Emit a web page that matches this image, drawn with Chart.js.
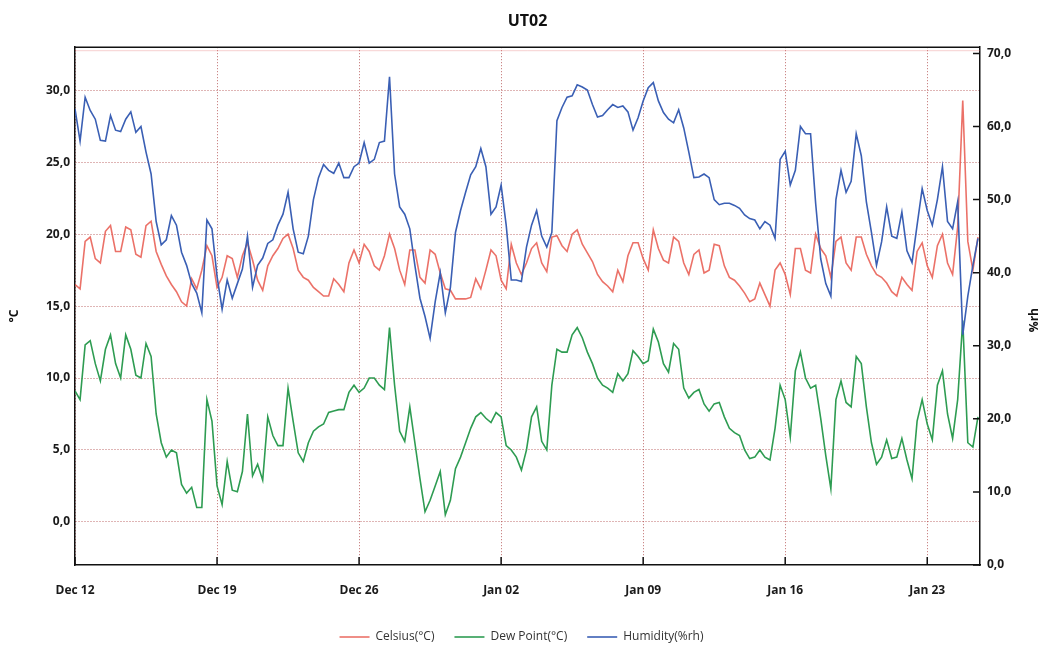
<!DOCTYPE html>
<html lang="en">
<head>
    <meta charset="UTF-8">
    <title>UT02</title>
    <script src="https://cdn.jsdelivr.net/npm/chart.js"></script>
    <style>
        body { margin: 0; background: #fff; }
        canvas { display: block; }
    </style>
</head>
<body>
    <canvas id="myChart" width="1043" height="646"></canvas>

    <script>
    // readings every 6 hours, starting Dec 12 00:00
    const sampleStepDays = 0.25;

    // one row per week
    const celsius = [
        16.5, 16.2, 19.5, 19.8, 18.3, 18.0, 20.2, 20.6, 18.8, 18.8, 20.5, 20.3, 18.6, 18.4, 20.6, 20.9, 18.8, 17.9, 17.1, 16.5, 16.0, 15.3, 15.0, 16.9, 16.2, 17.5, 19.2, 18.5,
        16.3, 17.0, 18.5, 18.3, 17.0, 18.5, 19.4, 18.2, 16.8, 16.1, 17.8, 18.5, 19.0, 19.7, 20.0, 19.0, 17.5, 17.0, 16.8, 16.3, 16.0, 15.7, 15.7, 16.9, 16.5, 16.0, 18.0, 18.9,
        18.0, 19.3, 18.8, 17.8, 17.5, 18.5, 20.0, 19.0, 17.5, 16.5, 18.9, 18.9, 17.0, 16.6, 18.9, 18.6, 17.3, 16.2, 16.1, 15.5, 15.5, 15.5, 15.6, 16.9, 16.2, 17.5, 18.9, 18.5,
        16.8, 16.2, 19.3, 18.0, 17.2, 18.0, 19.0, 19.4, 18.0, 17.4, 19.8, 19.9, 19.2, 18.8, 20.0, 20.3, 19.3, 18.7, 18.1, 17.2, 16.7, 16.4, 16.0, 17.5, 16.7, 18.5, 19.4, 19.4,
        18.3, 17.5, 20.3, 19.0, 18.2, 18.0, 19.8, 19.5, 18.0, 17.2, 18.6, 18.9, 17.3, 17.5, 19.3, 19.2, 17.8, 17.0, 16.8, 16.4, 15.9, 15.3, 15.5, 16.6, 15.8, 15.0, 17.5, 18.0,
        17.2, 15.8, 19.0, 19.0, 17.5, 17.3, 20.0, 19.0, 18.5, 17.0, 19.5, 19.8, 18.0, 17.5, 19.8, 19.8, 18.6, 17.8, 17.2, 17.0, 16.6, 16.0, 15.7, 17.0, 16.5, 16.1, 18.8, 19.4,
        17.8, 17.0, 19.2, 20.0, 18.0, 17.2, 20.5, 29.3, 19.5, 17.5, 19.8
    ];

    const dewPoint = [
        9.1, 8.5, 12.3, 12.6, 11.0, 9.8, 12.0, 13.0, 11.0, 10.0, 13.0, 12.0, 10.2, 10.0, 12.4, 11.5, 7.5, 5.5, 4.5, 5.0, 4.8, 2.6, 2.0, 2.4, 1.0, 1.0, 8.5, 7.0,
        2.5, 1.2, 4.2, 2.2, 2.1, 3.5, 7.5, 3.2, 4.0, 2.9, 7.3, 6.0, 5.3, 5.3, 9.3, 7.0, 4.8, 4.2, 5.5, 6.3, 6.6, 6.8, 7.6, 7.7, 7.8, 7.8, 9.0, 9.5,
        9.0, 9.3, 10.0, 10.0, 9.5, 9.2, 13.5, 9.5, 6.3, 5.6, 8.0, 5.5, 3.0, 0.7, 1.5, 2.5, 3.5, 0.5, 1.5, 3.7, 4.5, 5.5, 6.5, 7.3, 7.6, 7.2, 6.9, 7.6,
        7.3, 5.3, 5.0, 4.5, 3.6, 5.0, 7.3, 8.0, 5.6, 5.0, 9.5, 12.0, 11.8, 11.8, 13.0, 13.5, 12.8, 11.8, 11.0, 10.0, 9.5, 9.3, 9.0, 10.3, 9.8, 10.3, 11.9, 11.5,
        11.0, 11.2, 13.4, 12.5, 11.0, 10.4, 12.4, 12.0, 9.3, 8.6, 9.0, 9.2, 8.2, 7.7, 8.2, 8.3, 7.3, 6.5, 6.2, 6.0, 5.0, 4.4, 4.5, 5.0, 4.5, 4.3, 6.5, 9.5,
        8.5, 5.9, 10.5, 11.8, 10.0, 9.3, 9.5, 7.2, 4.6, 2.3, 8.5, 9.8, 8.3, 8.0, 11.5, 11.0, 8.0, 5.5, 4.0, 4.5, 5.7, 4.4, 4.5, 5.8, 4.3, 3.0, 7.0, 8.5,
        6.8, 5.7, 9.5, 10.5, 7.5, 5.8, 8.5, 14.0, 5.5, 5.2, 7.3
    ];

    const humidity = [
        62.4, 58.0, 64.0, 62.2, 61.0, 58.1, 58.0, 61.5, 59.5, 59.3, 61.0, 62.0, 59.2, 60.0, 56.5, 53.5, 47.0, 43.8, 44.5, 47.8, 46.5, 42.8, 41.0, 38.5, 37.2, 34.5, 47.2, 46.0,
        39.5, 35.0, 39.0, 36.5, 38.5, 40.5, 45.0, 38.0, 41.0, 42.0, 44.0, 44.5, 46.5, 48.0, 51.0, 46.0, 42.8, 42.6, 45.0, 50.0, 53.0, 54.8, 54.0, 53.6, 55.0, 53.0, 53.0, 54.5,
        55.0, 57.8, 55.0, 55.5, 57.8, 58.0, 66.8, 53.5, 49.0, 48.0, 46.0, 41.0, 36.5, 34.0, 31.0, 36.0, 40.0, 34.5, 38.0, 45.5, 48.5, 51.0, 53.4, 54.5, 57.0, 54.5, 48.0, 49.0,
        52.0, 46.5, 39.0, 39.0, 38.8, 43.5, 46.5, 48.5, 45.0, 43.5, 45.5, 60.8, 62.6, 64.0, 64.2, 65.7, 65.4, 65.0, 63.0, 61.3, 61.5, 62.3, 63.0, 62.6, 62.8, 62.0, 59.5, 61.2,
        63.5, 65.3, 66.0, 63.5, 61.9, 61.0, 60.5, 62.3, 59.8, 56.5, 53.0, 53.1, 53.5, 53.0, 50.0, 49.3, 49.5, 49.5, 49.2, 48.8, 47.9, 47.4, 47.2, 46.0, 47.0, 46.5, 44.7, 55.5,
        56.6, 52.0, 54.0, 60.0, 59.0, 59.0, 49.5, 41.9, 38.5, 36.8, 50.0, 54.0, 51.0, 52.5, 59.0, 56.0, 49.7, 45.5, 41.0, 44.2, 49.0, 45.0, 44.7, 48.3, 43.0, 41.4, 46.5, 51.5,
        48.5, 46.5, 50.0, 54.5, 47.0, 46.0, 49.7, 31.5, 36.8, 41.0, 44.7
    ];

    const dateTickDays = [0, 7, 14, 21, 28, 35, 42];
    const dateLabels = ['Dec 12', 'Dec 19', 'Dec 26', 'Jan 02', 'Jan 09', 'Jan 16', 'Jan 23'];
    const tempTicks = [0, 5, 10, 15, 20, 25, 30];
    const humidityTicks = [0, 10, 20, 30, 40, 50, 60, 70];

    const FONT = '"Open Sans", "DejaVu Sans", sans-serif';
    const gridColor = 'rgba(175, 70, 70, 0.8)';

    function toPoints(values) {
        return values.map((v, i) => ({ x: i * sampleStepDays, y: v }));
    }

    function commaFixed(v) {
        return Number(v).toFixed(1).replace('.', ',');
    }

    // frame top line, inward tick marks and the two axis titles
    const framePlugin = {
        id: 'frame',
        afterDraw(chart) {
            const { ctx, chartArea: a, scales } = chart;
            ctx.save();
            ctx.strokeStyle = 'rgba(230, 120, 120, 0.35)';
            ctx.lineWidth = 1;
            ctx.beginPath();
            ctx.moveTo(a.left, a.top + 3.5);
            ctx.lineTo(a.right, a.top + 3.5);
            ctx.stroke();

            ctx.strokeStyle = '#111';
            ctx.lineWidth = 1.5;
            ctx.beginPath();
            ctx.moveTo(a.left, a.top);
            ctx.lineTo(a.right, a.top);
            scales.x.ticks.forEach(t => {
                const px = scales.x.getPixelForValue(t.value);
                ctx.moveTo(px, a.bottom);
                ctx.lineTo(px, a.bottom - 8);
            });
            scales.y1.ticks.forEach(t => {
                const py = scales.y1.getPixelForValue(t.value);
                ctx.moveTo(a.right, py);
                ctx.lineTo(a.right - 7, py);
            });
            ctx.stroke();

            ctx.fillStyle = '#111';
            ctx.font = 'bold 12px ' + FONT;
            ctx.textAlign = 'center';
            ctx.textBaseline = 'middle';
            const midY = (a.top + a.bottom) / 2;
            [['°C', 15, midY + 10], ['%rh', chart.width - 8, midY + 14]].forEach(([text, x, y]) => {
                ctx.save();
                ctx.translate(x, y);
                ctx.rotate(-Math.PI / 2);
                ctx.fillText(text, 0, 0);
                ctx.restore();
            });
            ctx.restore();
        }
    };

    const tickFont = { family: FONT, size: 12, weight: 'bold' };

    new Chart(document.getElementById('myChart'), {
        type: 'line',
        data: {
            datasets: [
                {
                    label: 'Celsius(°C)',
                    data: toPoints(celsius),
                    yAxisID: 'y',
                    borderColor: 'rgba(232, 88, 78, 0.85)',
                    backgroundColor: 'rgba(232, 88, 78, 0.85)',
                    borderWidth: 1.6,
                    pointRadius: 0,
                    order: 2
                },
                {
                    label: 'Dew Point(°C)',
                    data: toPoints(dewPoint),
                    yAxisID: 'y',
                    borderColor: '#2e9c52',
                    backgroundColor: '#2e9c52',
                    borderWidth: 1.6,
                    pointRadius: 0,
                    order: 1
                },
                {
                    label: 'Humidity(%rh)',
                    data: toPoints(humidity),
                    yAxisID: 'y1',
                    borderColor: '#3a5fb4',
                    backgroundColor: '#3a5fb4',
                    borderWidth: 1.6,
                    pointRadius: 0,
                    order: 0
                }
            ]
        },
        options: {
            responsive: false,
            animation: false,
            devicePixelRatio: 1,
            layout: { padding: 0 },
            scales: {
                x: {
                    type: 'linear',
                    min: 0,
                    max: 44.6,
                    afterBuildTicks: s => { s.ticks = dateTickDays.map(v => ({ value: v })); },
                    afterFit: s => { s.height = 46; },
                    ticks: {
                        callback: (v, i) => dateLabels[i],
                        font: tickFont,
                        color: '#1a1a1a',
                        padding: 18,
                        maxRotation: 0,
                        autoSkip: false
                    },
                    grid: { color: gridColor, drawTicks: false },
                    border: { display: true, color: '#111', width: 1.5, dash: [1, 2] }
                },
                y: {
                    position: 'left',
                    min: -3,
                    max: 33,
                    afterBuildTicks: s => { s.ticks = tempTicks.map(v => ({ value: v })); },
                    afterFit: s => { s.width = 75; },
                    ticks: {
                        callback: v => commaFixed(v),
                        font: tickFont,
                        color: '#1a1a1a',
                        padding: 5
                    },
                    grid: { color: gridColor, drawTicks: false },
                    border: { display: true, color: '#111', width: 1.5, dash: [1, 2] }
                },
                y1: {
                    position: 'right',
                    min: 0,
                    max: 70.85,
                    afterBuildTicks: s => { s.ticks = humidityTicks.map(v => ({ value: v })); },
                    afterFit: s => { s.width = 63; },
                    ticks: {
                        callback: v => commaFixed(v),
                        font: tickFont,
                        color: '#1a1a1a',
                        padding: 7
                    },
                    grid: { display: false, drawTicks: false },
                    border: { display: true, color: '#111', width: 1.5 }
                }
            },
            plugins: {
                title: {
                    display: true,
                    text: 'UT02',
                    fullSize: false,
                    color: '#111',
                    font: { family: FONT, size: 16, weight: 'bold' },
                    padding: { top: 12, bottom: 16 }
                },
                legend: {
                    position: 'bottom',
                    maxHeight: 35,
                    labels: {
                        usePointStyle: true,
                        pointStyle: 'line',
                        pointStyleWidth: 30,
                        padding: 20,
                        color: '#333',
                        font: { family: FONT, size: 12 },
                        sort: (a, b) => a.datasetIndex - b.datasetIndex
                    }
                },
                tooltip: { enabled: false }
            }
        },
        plugins: [framePlugin]
    });
    </script>
</body>
</html>
